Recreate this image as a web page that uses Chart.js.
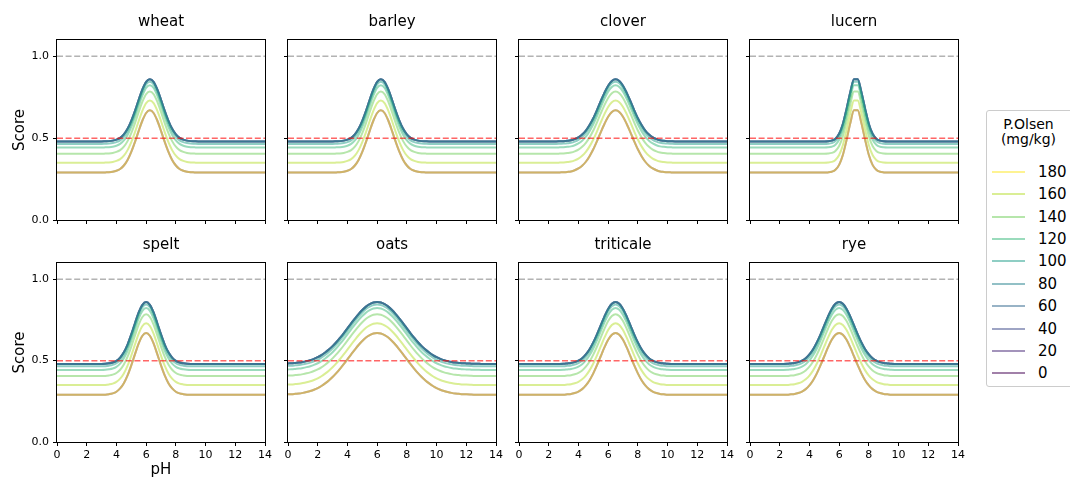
<!DOCTYPE html>
<html>
<head>
<meta charset="utf-8">
<script src="https://cdn.jsdelivr.net/npm/chart.js@4.4.1/dist/chart.umd.min.js"></script>
<style>
  body { margin: 0; background: #fff; width: 1070px; height: 482px; overflow: hidden; position: relative;
         font-family: "DejaVu Sans", sans-serif; }
  canvas { position: absolute; }
  #legend { position: absolute; left: 986px; top: 110px; width: 100px; height: 277px; box-sizing: border-box;
            border: 1px solid #ccc; border-radius: 3px; background: #fff; }
  #legend .ttl { position: absolute; left: 0; width: 83px; top: 6px; text-align: center; font-size: 14px; line-height: 15px; color: #000; }
  #legend .ln { position: absolute; left: 5px; width: 33px; height: 2px; }
  #legend .lb { position: absolute; left: 51px; font-size: 15px; line-height: 18px; color: #000; }
</style>
</head>
<body>
<div id="legend"></div>
<script>
// crops shown, one panel each
const crops = ['wheat', 'barley', 'clover', 'lucern', 'spelt', 'oats', 'triticale', 'rye'];

// P.Olsen levels (mg/kg) and the score each one gives away from the pH optimum
const pLevels = [0, 20, 40, 60, 80, 100, 120, 140, 160, 180];
const pBase = [0.29, 0.48, 0.48, 0.48, 0.48, 0.465, 0.443, 0.405, 0.35, 0.29];
const pColors = ['#440154', '#482878', '#3e4989', '#31688e', '#26828e', '#1f9e89', '#35b779', '#6ece58', '#b5de2b', '#fde725'];

// pH sample points
const phValues = [0, 0.25, 0.5, 0.75, 1, 1.25, 1.5, 1.75, 2, 2.25, 2.5, 2.75, 3, 3.25, 3.5, 3.75,
  4, 4.25, 4.5, 4.75, 5, 5.25, 5.5, 5.75, 6, 6.25, 6.5, 6.75, 7, 7.25, 7.5, 7.75,
  8, 8.25, 8.5, 8.75, 9, 9.25, 9.5, 9.75, 10, 10.25, 10.5, 10.75, 11, 11.25, 11.5, 11.75,
  12, 12.25, 12.5, 12.75, 13, 13.25, 13.5, 13.75, 14];

// pH contribution to the score, per crop (same pH points)
const wheatCurve = [0,0,0,0,0,0,0,0,0,0,0,0,0,
  0.001,0.002,0.005,0.011,0.022,0.043,0.077,0.126,0.187,0.255,0.318,0.364,0.380,
  0.364,0.318,0.255,0.187,0.126,0.077,0.043,0.022,0.011,0.005,0.002,0.001,
  0,0,0,0,0,0,0,0,0,0,0,0,0,0,0,0,0,0,0];
const barleyCurve = [0,0,0,0,0,0,0,0,0,0,0,0,0,
  0.001,0.002,0.005,0.011,0.022,0.043,0.077,0.126,0.187,0.255,0.318,0.364,0.380,
  0.364,0.318,0.255,0.187,0.126,0.077,0.043,0.022,0.011,0.005,0.002,0.001,
  0,0,0,0,0,0,0,0,0,0,0,0,0,0,0,0,0,0,0];
const cloverCurve = [0,0,0,0,0,0,0,0,0,0,0,
  0.001,0.002,0.004,0.007,0.014,0.025,0.042,0.066,0.100,0.142,0.192,0.246,0.297,0.341,0.370,0.380,
  0.370,0.341,0.297,0.246,0.192,0.142,0.100,0.066,0.042,0.025,0.014,0.007,0.004,0.002,0.001,
  0,0,0,0,0,0,0,0,0,0,0,0,0,0,0];
const lucernCurve = [0,0,0,0,0,0,0,0,0,0,0,0,0,0,0,0,0,0,0,0,0,
  0.001,0.005,0.017,0.047,0.107,0.199,0.301,0.380,0.380,0.301,0.199,0.107,0.047,0.017,0.005,0.001,
  0,0,0,0,0,0,0,0,0,0,0,0,0,0,0,0,0,0,0,0];
const speltCurve = [0,0,0,0,0,0,0,0,0,0,0,0,0,
  0.001,0.004,0.009,0.019,0.039,0.071,0.119,0.181,0.250,0.316,0.363,0.380,
  0.363,0.316,0.250,0.181,0.119,0.071,0.039,0.019,0.009,0.004,0.001,
  0,0,0,0,0,0,0,0,0,0,0,0,0,0,0,0,0,0,0,0,0];
const oatsCurve = [0.003,0.004,0.006,0.008,0.012,0.017,0.023,0.031,0.041,0.054,0.070,0.088,0.109,
  0.133,0.160,0.188,0.218,0.249,0.278,0.306,0.331,0.352,0.367,0.377,0.380,
  0.377,0.367,0.352,0.331,0.306,0.278,0.249,0.218,0.188,0.160,0.133,0.109,0.088,0.070,
  0.054,0.041,0.031,0.023,0.017,0.012,0.008,0.006,0.004,0.003,0.002,0.001,0.001,
  0,0,0,0,0];
const triticaleCurve = [0,0,0,0,0,0,0,0,0,0,0,0,
  0.001,0.003,0.005,0.011,0.020,0.035,0.058,0.090,0.132,0.182,0.237,0.291,0.338,0.369,0.380,
  0.369,0.338,0.291,0.237,0.182,0.132,0.090,0.058,0.035,0.020,0.011,0.005,0.003,0.001,
  0,0,0,0,0,0,0,0,0,0,0,0,0,0,0,0];
const ryeCurve = [0,0,0,0,0,0,0,0,0,0,
  0.001,0.003,0.005,0.011,0.020,0.035,0.058,0.090,0.132,0.182,0.237,0.291,0.338,0.369,0.380,
  0.369,0.338,0.291,0.237,0.182,0.132,0.090,0.058,0.035,0.020,0.011,0.005,0.003,0.001,
  0,0,0,0,0,0,0,0,0,0,0,0,0,0,0,0,0,0];

// dashed reference levels
const refLevels = [1.0, 0.5];
const refColors = ['rgba(128,128,128,0.6)', 'rgba(255,0,0,0.6)'];

const curves = {
  wheat: wheatCurve, barley: barleyCurve, clover: cloverCurve, lucern: lucernCurve,
  spelt: speltCurve, oats: oatsCurve, triticale: triticaleCurve, rye: ryeCurve
};

const FONT = '"DejaVu Sans", sans-serif';
const colLeft = [57, 288, 519, 750];

function rgba(hex, a) {
  const n = parseInt(hex.slice(1), 16);
  return `rgba(${n >> 16},${(n >> 8) & 255},${n & 255},${a})`;
}

// matplotlib-like box round each axes
const frame = {
  id: 'frame',
  afterDatasetsDraw(chart) {
    const { ctx, chartArea: a } = chart;
    ctx.save();
    ctx.strokeStyle = '#000';
    ctx.lineWidth = 1;
    ctx.strokeRect(a.left - 0.5, a.top - 0.5, a.right - a.left + 1, a.bottom - a.top + 1);
    ctx.restore();
  }
};

crops.forEach((name, k) => {
  const r = Math.floor(k / 4), c = k % 4;
  const W = 277, H = r ? 259 : 242;
  const cv = document.createElement('canvas');
  cv.width = W; cv.height = H;
  cv.style.left = (colLeft[c] - 57) + 'px';
  cv.style.top = (r ? 223 : 0) + 'px';
  document.body.appendChild(cv);

  const datasets = pLevels.map((p, i) => ({
    label: String(p),
    data: phValues.map((ph, j) => ({ x: ph, y: pBase[i] + curves[name][j] })),
    borderColor: rgba(pColors[i], 0.5),
    borderWidth: 2,
    pointRadius: 0,
    cubicInterpolationMode: 'monotone',
    order: 100 - i
  }));
  refLevels.forEach((v, i) => datasets.push({
    data: [{ x: 0, y: v }, { x: 14, y: v }],
    borderColor: refColors[i],
    borderDash: [6, 2.6],
    borderWidth: 1.5,
    pointRadius: 0,
    order: 0
  }));

  new Chart(cv, {
    type: 'line',
    data: { datasets },
    options: {
      responsive: false,
      animation: false,
      events: [],
      layout: { padding: { top: 9, left: 0, right: 12, bottom: 0 } },
      plugins: {
        legend: { display: false },
        tooltip: { enabled: false },
        title: {
          display: true, text: name, color: '#000', fullSize: false,
          font: { size: 15, family: FONT, weight: 'normal' },
          padding: { top: 4, bottom: 9 }
        }
      },
      scales: {
        x: {
          type: 'linear', min: 0, max: 14,
          ticks: { stepSize: 2, display: r === 1, color: '#000', font: { size: 11, family: FONT }, padding: 3, maxRotation: 0, autoSkip: false },
          grid: { drawOnChartArea: false, drawTicks: true, tickLength: 4, color: '#000' },
          border: { display: false },
          title: { display: r === 1 && c === 0, text: 'pH', color: '#000', font: { size: 15, family: FONT }, padding: { bottom: 3 } },
          afterFit: s => { s.height = r ? 40 : 22; }
        },
        y: {
          min: 0, max: 1.1,
          ticks: { stepSize: 0.5, includeBounds: false, display: c === 0, color: '#000', font: { size: 11, family: FONT }, padding: 4,
                   callback: v => v.toFixed(1) },
          grid: { drawOnChartArea: false, drawTicks: true, tickLength: 4, color: '#000' },
          border: { display: false },
          title: { display: c === 0, text: 'Score', color: '#000', font: { size: 15, family: FONT }, padding: { top: 11 } },
          afterFit: s => { s.width = 57; }
        }
      }
    },
    plugins: [frame]
  });
});

// legend, highest level first
const leg = document.getElementById('legend');
leg.innerHTML = '<div class="ttl">P.Olsen<br>(mg/kg)</div>';
pLevels.slice().reverse().forEach((p, k) => {
  const i = pLevels.length - 1 - k;
  const cy = 60.7 + 22.4 * k;
  const ln = document.createElement('div');
  ln.className = 'ln';
  ln.style.top = (cy - 1) + 'px';
  ln.style.background = rgba(pColors[i], 0.5);
  leg.appendChild(ln);
  const lb = document.createElement('div');
  lb.className = 'lb';
  lb.style.top = (cy - 9) + 'px';
  lb.textContent = p;
  leg.appendChild(lb);
});
</script>
</body>
</html>
